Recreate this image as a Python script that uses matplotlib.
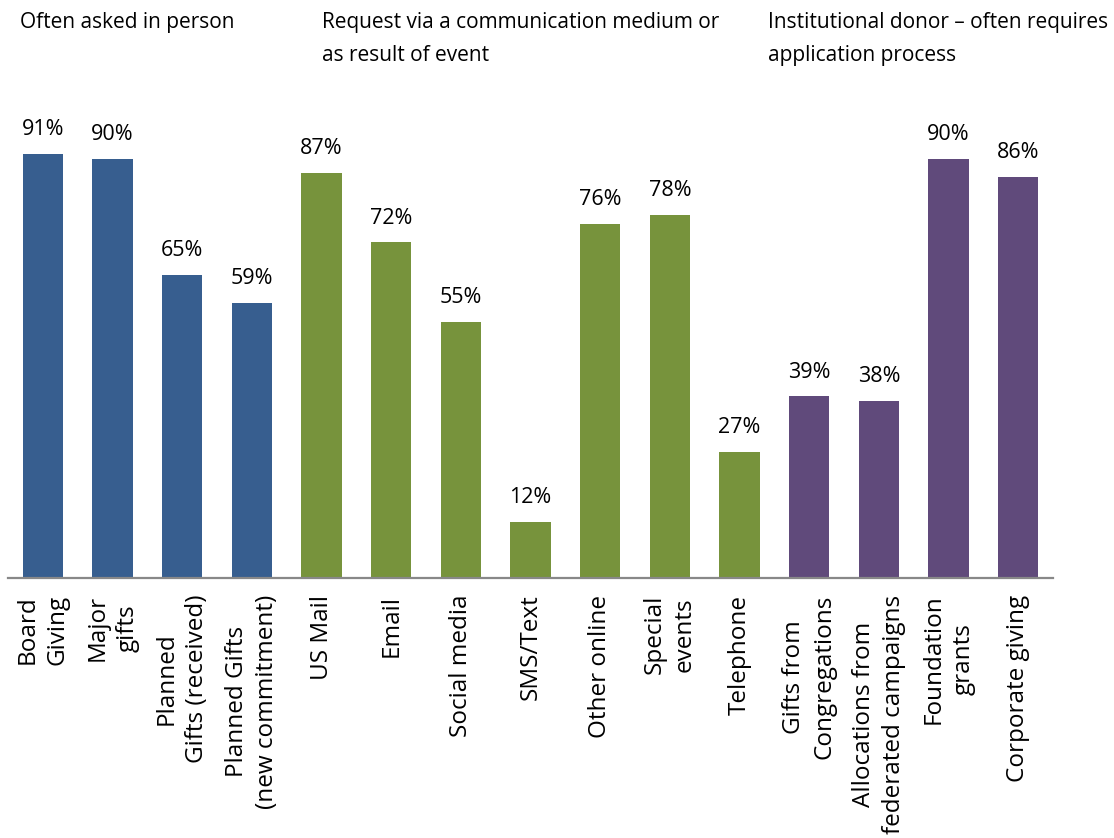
import matplotlib
matplotlib.use("Agg")
import matplotlib.pyplot as plt

plt.rcParams['font.family'] = ['Open Sans', 'DejaVu Sans']

categories = ["Board\nGiving", "Major\ngifts", "Planned\nGifts (received)",
              "Planned Gifts\n(new commitment)", "US Mail", "Email", "Social media",
              "SMS/Text", "Other online", "Special\nevents", "Telephone",
              "Gifts from\nCongregations", "Allocations from\nfederated campaigns",
              "Foundation\ngrants", "Corporate giving"]
values = [91, 90, 65, 59, 87, 72, 55, 12, 76, 78, 27, 39, 38, 90, 86]
groups = ["person"] * 4 + ["medium"] * 7 + ["institution"] * 4
group_colors = {"person": "#375E8F", "medium": "#77933C", "institution": "#604A7B"}
group_titles = ["Often asked in person",
                "Request via a communication medium or\nas result of event",
                "Institutional donor \u2013 often requires\napplication process"]
title_x_px = [20, 322, 768]

W, H = 1114, 838
fig = plt.figure(figsize=(W / 100, H / 100), dpi=100)
ax = fig.add_axes([8 / W, (H - 578) / H, 1045 / W, 466 / H])

x = list(range(len(values)))
colors = [group_colors[g] for g in groups]
ax.bar(x, values, width=0.575, color=colors, zorder=2)
ax.set_xlim(-0.5, len(values) - 0.5)
ax.set_ylim(0, 100)

for xi, v in zip(x, values):
    ax.annotate(f"{v}%", (xi, v), xytext=(0, 13.5), textcoords="offset points",
                ha="center", va="baseline", fontsize=15.5, color="#000000")

for s in ["top", "right", "left"]:
    ax.spines[s].set_visible(False)
ax.spines["bottom"].set_color("#888888")
ax.spines["bottom"].set_linewidth(1.6)
ax.set_yticks([])
ax.set_xticks(x)
ax.set_xticklabels(categories, rotation=90, ha="center", va="top",
                   multialignment="center", fontsize=17.5, linespacing=1.35)
ax.tick_params(axis="x", length=0, pad=12)

for title, tx in zip(group_titles, title_x_px):
    fig.text(tx / W, 1 - 12 / H, title, ha="left", va="top", fontsize=15,
             linespacing=1.75)

fig.savefig("out.png", dpi=100)
